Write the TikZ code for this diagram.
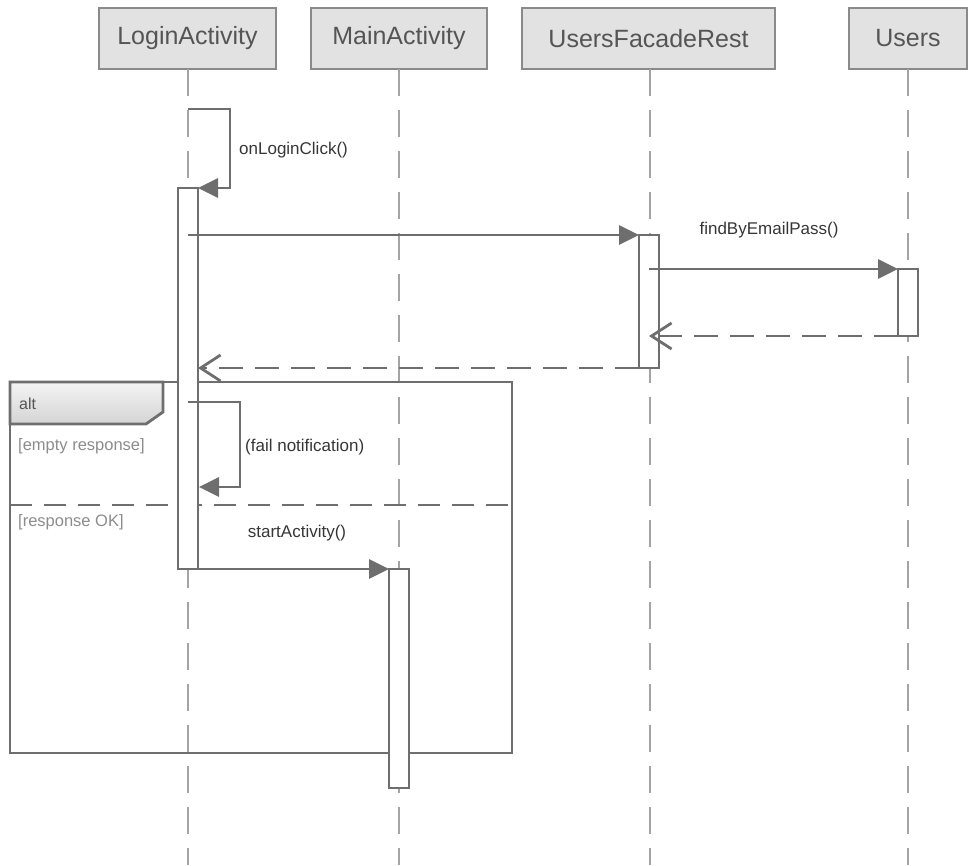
\documentclass[tikz,border=0pt]{standalone}
\usepackage{fontspec}
\setmainfont{Liberation Sans}
\usetikzlibrary{arrows.meta,calc}

\definecolor{linegray}{HTML}{6E6E6E}
\definecolor{lifegray}{HTML}{A4A4A4}
\definecolor{headfill}{HTML}{E2E2E2}
\definecolor{headborder}{HTML}{8A8A8A}
\definecolor{headtext}{HTML}{555555}
\definecolor{msgtext}{HTML}{363636}
\definecolor{guardtext}{HTML}{8C8C8C}
\definecolor{tabtop}{HTML}{F4F4F4}
\definecolor{tabbottom}{HTML}{D4D4D4}

\begin{document}
\begin{tikzpicture}[x=1pt,y=-1pt,
  header/.style={draw=headborder, fill=headfill, line width=1.5pt, text=headtext,
    font=\fontsize{25}{29}\selectfont, inner sep=0pt, outer sep=0pt,
    minimum height=61pt, anchor=north west},
  lifeline/.style={draw=lifegray, line width=2.6pt, dash pattern=on 27pt off 14pt},
  actbox/.style={draw=linegray, fill=white, line width=2.8pt, inner sep=0pt,
    outer sep=0pt, minimum width=20pt, anchor=north west},
  msg/.style={draw=linegray, line width=2.8pt, -{Triangle[length=20pt,width=19pt]}},
  ret/.style={draw=linegray, line width=2.8pt, dash pattern=on 24pt off 12pt,
    -{Straight Barb[length=20pt,width=26pt,line width=2.8pt]}},
  msglabel/.style={text=msgtext, font=\fontsize{17}{20}\selectfont, inner sep=1pt},
  guard/.style={text=guardtext, font=\fontsize{16.5}{20}\selectfont, anchor=west, inner sep=0pt},
  frame/.style={draw=linegray, line width=2.8pt},
]
\useasboundingbox (0,0) rectangle (969,865);

% participants
\node[header, minimum width=177pt] (hLogin)  at (99,8)  {LoginActivity};
\node[header, minimum width=176pt] (hMain)   at (311,8) {MainActivity};
\node[header, minimum width=253pt] (hFacade) at (522,8) {UsersFacadeRest};
\node[header, minimum width=118pt] (hUsers)  at (849,8) {Users};

% lifelines
\coordinate (eLogin)  at ($(hLogin.south)+(0.5,796)$);
\coordinate (eMain)   at ($(hMain.south)+(0,796)$);
\coordinate (eFacade) at ($(hFacade.south)+(1.5,796)$);
\coordinate (eUsers)  at ($(hUsers.south)+(0,796)$);
\draw[lifeline] ($(hLogin.south)+(0.5,0)$)  -- (eLogin);
\draw[lifeline] (hMain.south)   -- (eMain);
\draw[lifeline] ($(hFacade.south)+(1.5,0)$) -- (eFacade);
\draw[lifeline] (hUsers.south)  -- (eUsers);

% alt frame
\node[frame, inner sep=0pt, outer sep=0pt, minimum width=502pt, minimum height=371pt,
  anchor=north west] (altFrame) at (10,382) {};
\draw[frame, shade, top color=tabtop, bottom color=tabbottom]
  (altFrame.north west) -- (163,382) -- (163,412) -- (146,424) -- (10,424) -- cycle;
\node[anchor=west, inner sep=0pt, text=headtext, font=\fontsize{16}{19}\selectfont]
  (altLabel) at (19,404) {alt};
\coordinate (sepL) at (10,505);
\coordinate (sepR) at (512,505);
\draw[frame, dash pattern=on 22pt off 12pt] (sepL) -- (sepR);
\node[guard] (g1) at (18,446) {[empty response]};
\node[guard] (g2) at (18,522) {[response OK]};

% activations
\node[actbox, minimum height=381pt] (aLogin)  at (178,188) {};
\node[actbox, minimum height=133pt] (aFacade) at (639,235) {};
\node[actbox, minimum height=67pt]  (aUsers)  at (898,269) {};
\node[actbox, minimum height=219pt] (aMain)   at (389,569) {};

% onLoginClick self call
\coordinate (s1) at (188,109);
\draw[msg] (s1) -- (230,109) |- (aLogin.north east);
\node[msglabel, anchor=west] (l1) at (238,150) {onLoginClick()};

% request to the facade
\draw[msg] (aLogin.north |- aFacade.north) -- (aFacade.north west);

% findByEmailPass
\draw[msg] ($(aFacade.north)+(0,34)$) -- (aUsers.north west);
\node[msglabel] (l2) at (769,230) {findByEmailPass()};

% returns
\draw[ret] (aUsers.south west) -- (aFacade.north |- aUsers.south);
\draw[ret] (aFacade.south west) -- (aLogin.east |- aFacade.south);

% fail notification self call
\coordinate (s2) at (188,402);
\draw[msg] (s2) -- (240,402) |- ($(aLogin.north east)+(1,299)$);
\node[msglabel, anchor=west] (l3) at (244,447) {(fail notification)};

% startActivity
\draw[msg] (aLogin.south west) -- (aMain.north west);
\node[msglabel] (l4) at (297,533) {startActivity()};

\end{tikzpicture}
\end{document}
